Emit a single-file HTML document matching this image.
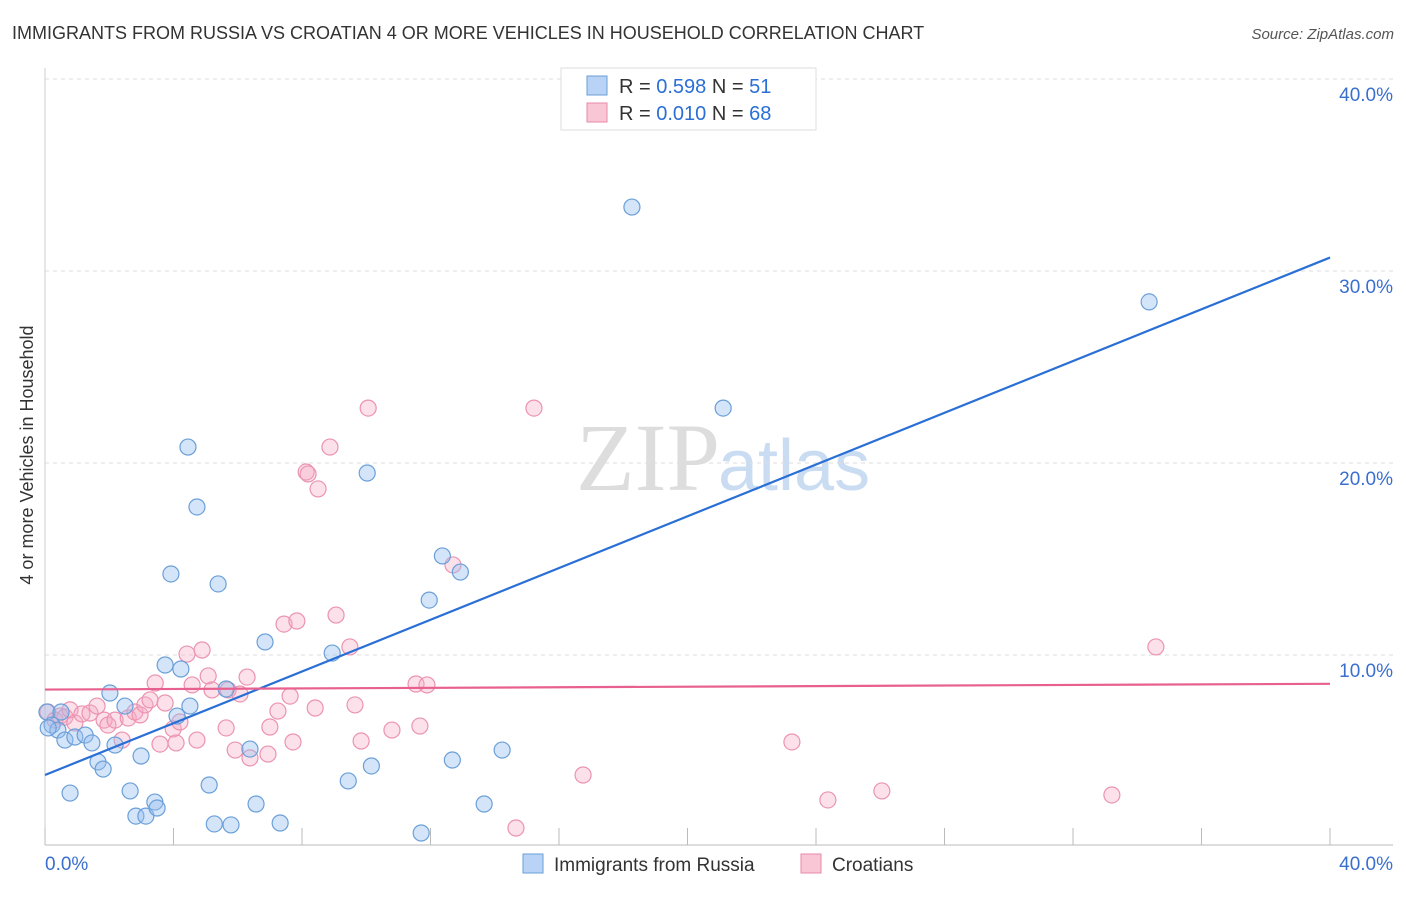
<!DOCTYPE html>
<html><head><meta charset="utf-8"><style>
body{margin:0;background:#fff;font-family:"Liberation Sans",sans-serif;}
#c{position:absolute;left:0;top:0;width:1406px;height:892px;}
</style></head><body>
<div id="c">
<svg id="svg" width="1406" height="892" xmlns="http://www.w3.org/2000/svg">
<text x="12" y="39" font-size="18" fill="#333">IMMIGRANTS FROM RUSSIA VS CROATIAN 4 OR MORE VEHICLES IN HOUSEHOLD CORRELATION CHART</text>
<text x="1394" y="39" font-size="15" fill="#555" font-style="italic" text-anchor="end">Source: ZipAtlas.com</text>
<text x="33" y="455" font-size="18" fill="#333" text-anchor="middle" transform="rotate(-90 33 455)">4 or more Vehicles in Household</text>
<text x="720" y="490" font-size="96" fill="#ddd" text-anchor="end" font-family="Liberation Serif,serif">ZIP</text>
<text x="718" y="490" font-size="72" fill="#c9dcf2">atlas</text>
<g id="grid"></g><g id="pts"></g><g id="lines"></g>
<g>
<rect x="561" y="68" width="255" height="62" fill="#fff" stroke="#ddd"/>
<rect x="587" y="76" width="20" height="19" fill="#b8d3f5" stroke="#6a9fd8"/>
<rect x="587" y="103" width="20" height="19" fill="#f9c6d6" stroke="#e88aa8"/>
<text x="619" y="93" font-size="20" fill="#333">R = <tspan fill="#2a6fd6">0.598</tspan>   N = <tspan fill="#2a6fd6">51</tspan></text>
<text x="619" y="120" font-size="20" fill="#333">R = <tspan fill="#2a6fd6">0.010</tspan>   N = <tspan fill="#2a6fd6">68</tspan></text>
</g>
<g>
<rect x="523" y="854" width="20" height="19" fill="#b8d3f5" stroke="#6a9fd8"/>
<text x="554" y="871" font-size="19" fill="#333">Immigrants from Russia</text>
<rect x="801" y="854" width="20" height="19" fill="#f9c6d6" stroke="#e88aa8"/>
<text x="832" y="871" font-size="19" fill="#333">Croatians</text>
</g>
</svg></div>
<script>
const russiaX=[0.06,0.22,0.4,0.62,0.78,0.93,1.25,1.46,1.65,1.81,2.02,2.18,2.49,2.65,2.83,2.99,3.14,3.42,3.49,3.74,3.92,4.11,4.23,4.45,4.51,4.73,5.11,5.27,5.39,5.64,5.79,6.38,6.57,6.85,7.32,8.94,9.44,10.03,10.16,11.71,11.96,12.37,12.68,12.93,13.67,14.23,18.27,21.11,34.37,0.5,0.1];
const russiaY=[7.03,6.35,6.09,5.57,2.81,5.73,5.83,5.42,4.43,4.06,8.02,5.31,7.34,2.92,1.61,4.74,1.61,2.34,2.03,9.48,14.22,6.82,9.27,20.83,7.34,17.71,3.23,1.2,13.7,8.23,1.15,5.1,2.24,10.68,1.25,10.1,3.44,19.48,4.22,0.73,12.86,15.16,4.53,14.32,2.24,5.05,33.33,22.86,28.39,7.03,6.2];
const croatX=[0.09,0.31,0.47,0.62,0.78,0.93,1.15,1.4,1.62,1.84,1.96,2.18,2.4,2.59,2.8,2.96,3.11,3.27,3.43,3.58,3.74,3.99,4.08,4.2,4.42,4.58,4.73,4.89,5.08,5.2,5.64,5.7,5.92,6.07,6.29,6.38,6.94,7.0,7.25,7.44,7.63,7.72,7.84,8.13,8.19,8.41,8.5,8.87,9.06,9.49,9.65,9.84,10.06,10.8,11.55,11.67,11.89,12.7,14.66,15.22,16.75,23.25,24.37,26.05,33.21,34.58];
const croatY=[7.03,6.61,6.82,6.77,7.14,6.46,6.93,6.98,7.34,6.61,6.35,6.61,5.57,6.72,7.03,6.88,7.4,7.66,8.54,5.36,7.5,6.15,5.42,6.51,10.05,8.44,5.57,10.26,8.91,8.18,6.2,8.18,5.05,7.97,8.85,4.64,4.84,6.25,7.08,11.61,7.86,5.47,11.77,19.53,19.43,7.24,18.65,20.83,12.08,10.42,7.4,5.52,22.86,6.09,8.49,6.3,8.44,14.69,0.99,22.86,3.75,5.47,2.45,2.92,2.71,10.42];
const russiaTrend=[3.75,30.7];
const croatTrend=[8.2,8.5];
const yTicks=[10,20,30,40];
const xTickLabels=["0.0%","40.0%"];
const NS="http://www.w3.org/2000/svg";
const X=v=>45+v*32.125, Y=v=>847-v*19.2;
function mk(t,a,p){const e=document.createElementNS(NS,t);for(const k in a)e.setAttribute(k,a[k]);p.appendChild(e);return e;}
const grid=document.getElementById('grid');
mk('line',{x1:45,y1:845,x2:1393,y2:845,stroke:'#bbb'},grid);
mk('line',{x1:45,y1:68,x2:45,y2:845,stroke:'#ccc'},grid);
yTicks.forEach(t=>{
 const l=mk('line',{x1:45,y1:Y(t),x2:1393,y2:Y(t),stroke:'#ddd','stroke-dasharray':'4,4'},grid);
 
 
 const tx=mk('text',{x:1393,y:Y(t)+22,'font-size':19,fill:'#3a6fd0','text-anchor':'end'},grid);
 tx.textContent=t.toFixed(1)+'%';
 
 
});
for(let i=0;i<=10;i++){const l=mk('line',{x1:X(i*4),y1:828,x2:X(i*4),y2:845,stroke:'#bbb'},grid);
 
 }
const t0=mk('text',{x:45,y:870,'font-size':19,fill:'#3a6fd0'},grid);t0.textContent=xTickLabels[0];


const t1=mk('text',{x:1393,y:870,'font-size':19,fill:'#3a6fd0','text-anchor':'end'},grid);t1.textContent=xTickLabels[1];


const pts=document.getElementById('pts');
croatX.forEach((x,i)=>{const c=mk('circle',{cx:X(x),cy:Y(croatY[i]),r:8,fill:'rgba(245,170,195,0.35)',stroke:'#eb93b0','stroke-width':1.2},pts);
 
 });
russiaX.forEach((x,i)=>{const c=mk('circle',{cx:X(x),cy:Y(russiaY[i]),r:8,fill:'rgba(150,190,240,0.4)',stroke:'#6a9fd8','stroke-width':1.2},pts);
 
 });
const lines=document.getElementById('lines');
const lb=mk('line',{x1:X(0),y1:Y(russiaTrend[0]),x2:X(40),y2:Y(russiaTrend[1]),stroke:'#2a6fd6','stroke-width':2.2},lines);


const lp=mk('line',{x1:X(0),y1:Y(croatTrend[0]),x2:X(40),y2:Y(croatTrend[1]),stroke:'#e8608f','stroke-width':2.2},lines);


</script>
</body></html>
